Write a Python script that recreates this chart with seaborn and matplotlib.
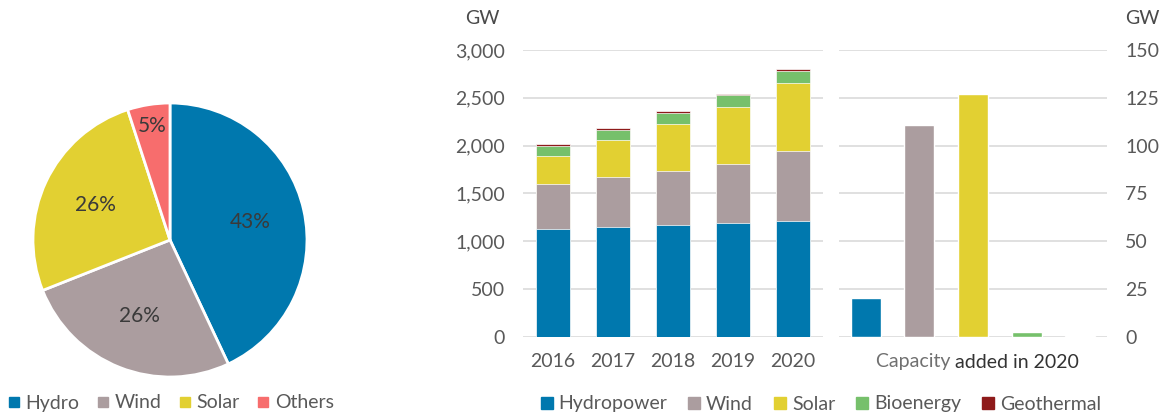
import numpy as np
import pandas as pd
import matplotlib
matplotlib.use("Agg")
import matplotlib.pyplot as plt
import seaborn as sns
from matplotlib.lines import Line2D

# ---------------- data ----------------
pie_labels = ["Hydro", "Wind", "Solar", "Others"]
pie_values = [43, 26, 26, 5]

years = ["2016", "2017", "2018", "2019", "2020"]
hydropower = [1127, 1152, 1170, 1192, 1208]
wind = [470, 515, 562, 620, 735]
solar = [297, 390, 494, 590, 715]
bioenergy = [105, 106, 115, 125, 122]
geothermal = [13, 20, 20, 15, 16]

added_cats = ["Hydropower", "Wind", "Solar", "Bioenergy", "Geothermal"]
added_values = [20, 111, 127, 2.3, 0.2]

# ---------------- style ----------------
sns.set_theme(style="white")
plt.rcParams["font.family"] = ["Lato", "DejaVu Sans"]

C_HYDRO = "#0078AE"
C_WIND = "#AB9D9F"
C_SOLAR = "#E2D032"
C_BIO = "#76C06B"
C_GEO = "#8E1A1A"
C_OTHER = "#F76D6D"
TICK_C = "#595959"
GRID_C = "#DADADA"
FS = 14

W, H = 1176, 417
fig = plt.figure(figsize=(W / 100, H / 100), dpi=100)


def fx(px):
    return px / W


def fy(py):
    return 1 - py / H


# ---------------- pie ----------------
cx, cy, r = 170, 240, 137
axp = fig.add_axes([fx(cx - r), fy(cy + r), 2 * r / W, 2 * r / H])
wedges, texts, autotexts = axp.pie(
    pie_values,
    colors=[C_HYDRO, C_WIND, C_SOLAR, C_OTHER],
    startangle=90,
    counterclock=False,
    autopct=lambda p: f"{p:.0f}%",
    pctdistance=0.6,
    wedgeprops=dict(edgecolor="white", linewidth=2),
    textprops=dict(color="#3a3a3a", fontsize=FS + 1),
)
# move small slice label outward
ang = np.deg2rad(90 - (sum(pie_values[:3]) + pie_values[3] / 2) / sum(pie_values) * 360)
autotexts[3].set_position((0.84 * np.cos(ang), 0.84 * np.sin(ang)))
axp.set_xlim(-1.0, 1.0)
axp.set_ylim(-1.0, 1.0)
axp.set_aspect("equal")
axp.axis("off")

pie_handles = [
    Line2D([0], [0], marker="s", linestyle="none", markersize=7, markerfacecolor=c, markeredgecolor=c)
    for c in [C_HYDRO, C_WIND, C_SOLAR, C_OTHER]
]
fig.legend(
    pie_handles, pie_labels, loc="center", bbox_to_anchor=(fx(170), fy(403)),
    ncol=4, frameon=False, fontsize=FS, handletextpad=0.2, columnspacing=0.8,
    handlelength=0.8, labelcolor=TICK_C,
)

# ---------------- stacked bars ----------------
ax1 = fig.add_axes([fx(523), fy(336.7), fx(823) - fx(523), (336.7 - 50) / H])
df = pd.DataFrame({"year": years, "Hydropower": hydropower, "Wind": wind,
                   "Solar": solar, "Bioenergy": bioenergy, "Geothermal": geothermal})
layers = ["Hydropower", "Wind", "Solar", "Bioenergy", "Geothermal"]
layer_colors = [C_HYDRO, C_WIND, C_SOLAR, C_BIO, C_GEO]
cum = df[layers].cumsum(axis=1)
for name, col in reversed(list(zip(layers, layer_colors))):
    sns.barplot(x=df["year"], y=cum[name], color=col, width=0.57, ax=ax1,
                edgecolor="white", linewidth=0.5, saturation=1)
ax1.set_ylim(0, 3000)
ax1.set_xlim(-0.5, 4.5)
ax1.set_yticks(range(0, 3001, 500))
ax1.set_yticklabels([f"{v:,}" for v in range(0, 3001, 500)])
ax1.set_xlabel("")
ax1.set_ylabel("")
ax1.yaxis.grid(True, color=GRID_C, linewidth=1.2)
ax1.set_axisbelow(True)
for s in ax1.spines.values():
    s.set_visible(False)
ax1.tick_params(axis="both", length=0, labelsize=FS, labelcolor=TICK_C)
ax1.tick_params(axis="y", pad=13)
ax1.tick_params(axis="x", pad=12)
fig.text(fx(482), fy(19), "GW", ha="center", va="center", fontsize=FS, color="#4a4a4a")

# ---------------- capacity added ----------------
ax2 = fig.add_axes([fx(839), fy(336.7), fx(1107) - fx(839), (336.7 - 50) / H])
df2 = pd.DataFrame({"cat": added_cats, "val": added_values})
sns.barplot(data=df2, x="cat", y="val", hue="cat", order=added_cats,
            palette=dict(zip(added_cats, layer_colors)), width=0.56, ax=ax2,
            legend=False, saturation=1)
ax2.set_ylim(0, 150)
ax2.set_xlim(-0.5, 4.5)
ax2.set_yticks(range(0, 151, 25))
ax2.yaxis.tick_right()
ax2.set_xticks([])
ax2.set_xlabel("")
ax2.set_ylabel("")
ax2.yaxis.grid(True, color=GRID_C, linewidth=1.2)
ax2.set_axisbelow(True)
for s in ax2.spines.values():
    s.set_visible(False)
ax2.tick_params(axis="both", length=0, labelsize=FS, labelcolor=TICK_C)
ax2.tick_params(axis="y", pad=13)
fig.text(fx(1142), fy(19), "GW", ha="center", va="center", fontsize=FS, color="#4a4a4a")
t1 = fig.text(fx(876), fy(362), "Capacity ", ha="left", va="center", fontsize=FS, color="#707070")
fig.canvas.draw()
bb = t1.get_window_extent()
fig.text(bb.x1 / W, fy(362), "added in 2020", ha="left", va="center", fontsize=FS, color="#333333")

bar_handles = [
    Line2D([0], [0], marker="s", linestyle="none", markersize=9, markerfacecolor=c, markeredgecolor=c)
    for c in layer_colors
]
fig.legend(
    bar_handles, layers, loc="center", bbox_to_anchor=(fx(820), fy(404)),
    ncol=5, frameon=False, fontsize=FS, handletextpad=0.2, columnspacing=1.0,
    handlelength=0.8, labelcolor=TICK_C,
)

fig.savefig("out.png", dpi=100)
